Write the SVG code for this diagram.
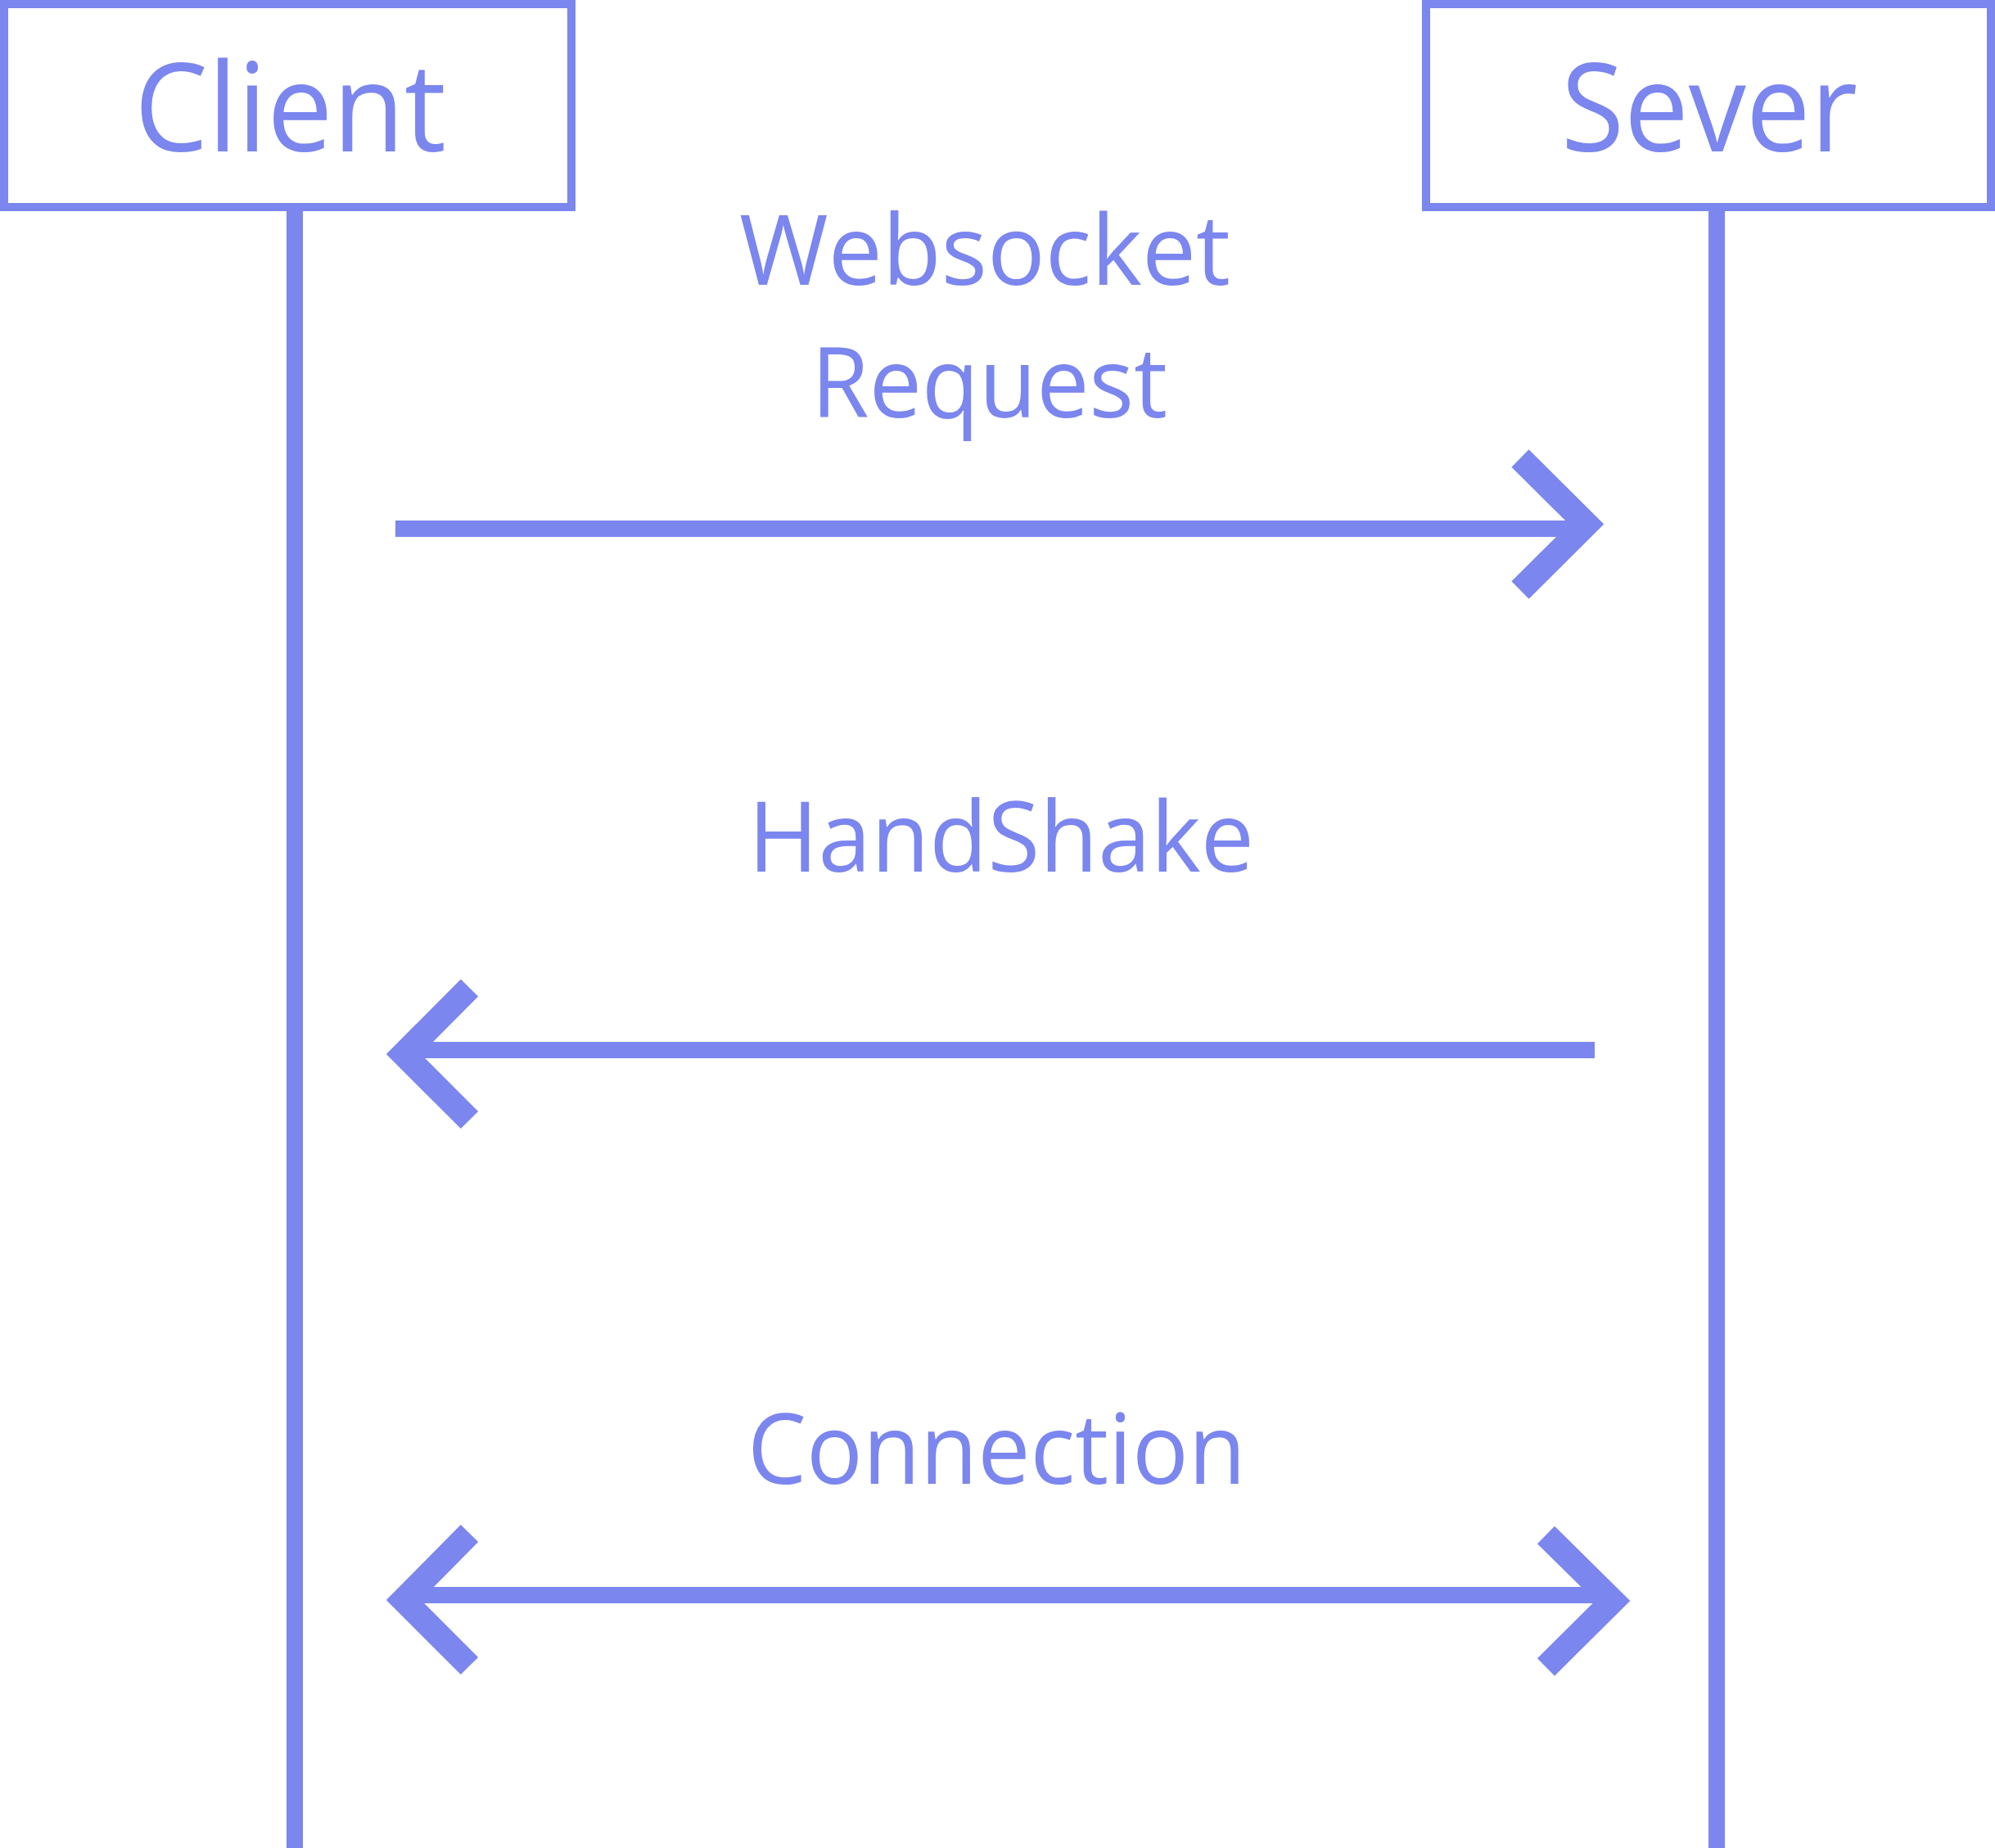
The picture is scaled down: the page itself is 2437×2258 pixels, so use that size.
<svg xmlns="http://www.w3.org/2000/svg" width="2437" height="2258" viewBox="0 0 2437 2258">
<style>
.box{fill:#fff;stroke:#7b86ee;stroke-width:10}
.life{stroke:#7b86ee;stroke-width:20;fill:none}
.ln{stroke:#7b86ee;stroke-width:20;fill:none}
.head{stroke:#7b86ee;stroke-width:30;fill:none;stroke-linejoin:miter;stroke-miterlimit:10}
.t{fill:#7b86ee;font-family:"Open Sans","Noto Sans",sans-serif;font-weight:500}
.hdr{font-size:150px}
.lbl{font-size:119px}
</style>
<rect width="2437" height="2258" fill="#fff"/>
<g id="client">
<line class="life" x1="360" y1="253" x2="360" y2="2258"/>
<rect class="box" x="5" y="5" width="693" height="248"/>
<text class="t hdr" x="164" y="185" textLength="381" lengthAdjust="spacingAndGlyphs">Client</text>
</g>
<g id="sever">
<line class="life" x1="2097" y1="253" x2="2097" y2="2258"/>
<rect class="box" x="1742" y="5" width="690" height="248"/>
<text class="t hdr" x="1907" y="185" textLength="362" lengthAdjust="spacingAndGlyphs">Sever</text>
</g>
<g id="connectors">
<line class="ln" x1="483" y1="646" x2="1930" y2="646"/>
<polyline class="head" points="1857,560 1938,640.5 1857,721"/>
<line class="ln" x1="500" y1="1283" x2="1948" y2="1283"/>
<polyline class="head" points="573.5,1207 493,1288 573.5,1368.5"/>
<line class="ln" x1="500" y1="1949" x2="1960" y2="1949"/>
<polyline class="head" points="573.5,1873.5 493,1955 573.5,2035.5"/>
<polyline class="head" points="1888.5,1875.5 1970,1956 1888.5,2037"/>
</g>
<g id="labels">
<text class="t lbl" x="903" y="348" textLength="600" lengthAdjust="spacingAndGlyphs">Websocket</text>
<text class="t lbl" x="991" y="510" textLength="435" lengthAdjust="spacingAndGlyphs">Request</text>
<text class="t lbl" x="914" y="1065" textLength="618" lengthAdjust="spacingAndGlyphs">HandShake</text>
<text class="t lbl" x="913" y="1813" textLength="609" lengthAdjust="spacingAndGlyphs">Connection</text>
</g>
</svg>
